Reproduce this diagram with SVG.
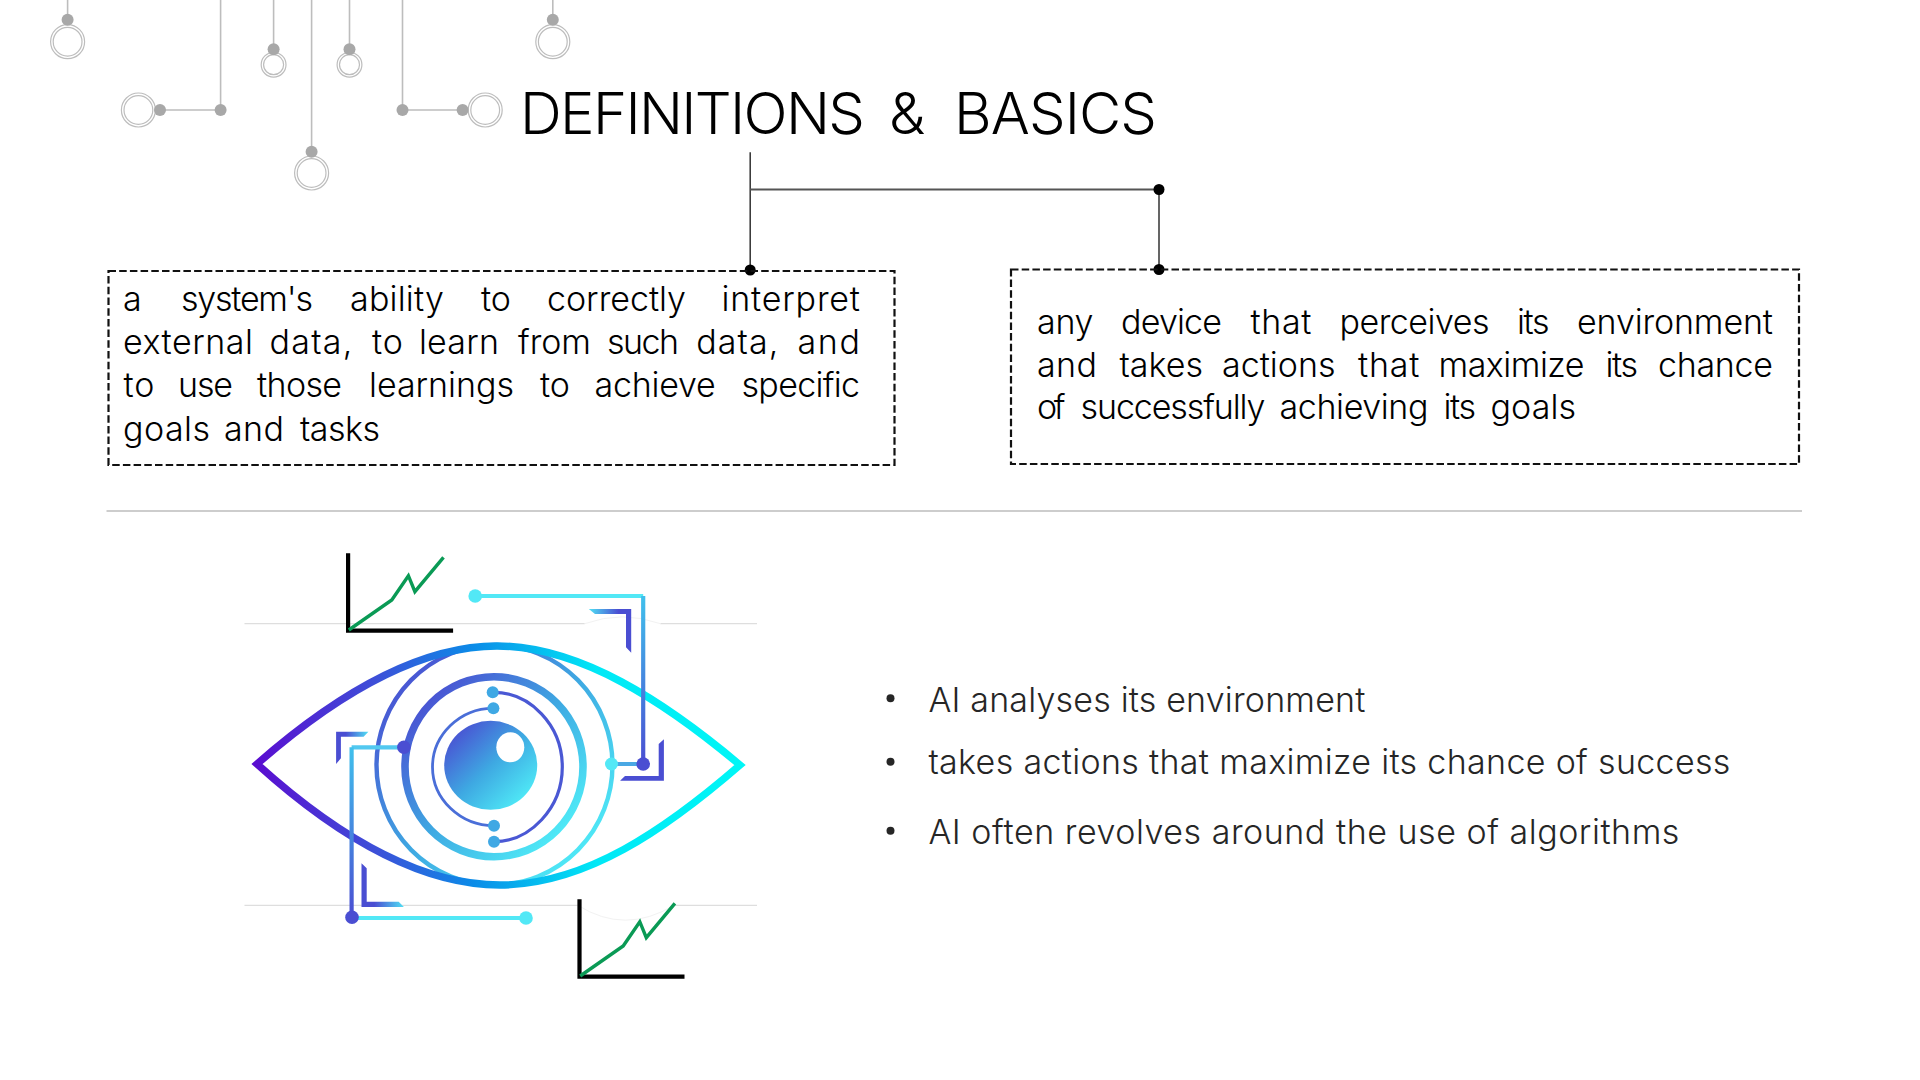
<svg xmlns="http://www.w3.org/2000/svg" width="1920" height="1080" viewBox="0 0 1920 1080">
<style>
text{font-family:"Inter","Lato","Liberation Sans",sans-serif;font-weight:300;fill:#000}
.body{font-size:34px}
.bul{font-size:34px;fill:#262626}
.title{font-size:58px}
.dash{fill:none;stroke:#111;stroke-width:2.2;stroke-dasharray:7.5 3.2}
.cl{stroke:#bdbdbd;stroke-width:1.6;fill:none}
.cd{fill:#a8a8a8}
.cr{fill:#fff;stroke:#bdbdbd;stroke-width:1.2}
.cn{fill:none;stroke:#333;stroke-width:1.5}
.gl{stroke:#dedede;stroke-width:1.2;fill:none}
.ax{fill:none;stroke:#000;stroke-width:4.2}
.gr{fill:none;stroke:#0a9a55;stroke-width:3.4}
</style>
<defs>
<linearGradient id="gEye" gradientUnits="userSpaceOnUse" x1="254" y1="0" x2="743" y2="0">
<stop offset="0" stop-color="#5a0cd0"/><stop offset=".25" stop-color="#3d50d8"/><stop offset=".45" stop-color="#0a8ce8"/><stop offset=".7" stop-color="#00e8f6"/><stop offset="1" stop-color="#00f6f6"/>
</linearGradient>
<linearGradient id="gRing" x1="0.1" y1="0.1" x2="0.9" y2="0.9">
<stop offset="0" stop-color="#4a4ed2"/><stop offset=".5" stop-color="#3ea8e2"/><stop offset="1" stop-color="#50eef8"/>
</linearGradient>
<linearGradient id="gV1" gradientUnits="userSpaceOnUse" x1="0" y1="596" x2="0" y2="764">
<stop offset="0" stop-color="#40c0ec"/><stop offset="1" stop-color="#4a4ed2"/>
</linearGradient>
<linearGradient id="gV2" gradientUnits="userSpaceOnUse" x1="0" y1="747" x2="0" y2="917">
<stop offset="0" stop-color="#40c0ec"/><stop offset="1" stop-color="#4a4ed2"/>
</linearGradient>
<linearGradient id="gB1" x1="0" y1="0" x2="1" y2="0"><stop offset="0" stop-color="#50e0f4"/><stop offset=".7" stop-color="#4a4ed2"/></linearGradient>
<linearGradient id="gB2" x1="0" y1="0" x2="1" y2="0"><stop offset=".3" stop-color="#4a4ed2"/><stop offset="1" stop-color="#50e0f4"/></linearGradient>
</defs>
<rect width="1920" height="1080" fill="#fff"/>
<g id="circuit">
<g class="cl"><path class="cl" d="M67.6 0V19.7M552.8 0V19.7M220.6 0V110H160M273.6 0V49.3M349.5 0V49.3M311.6 0V151.7M402.5 0V110H462.6"/></g>
<g class="cr">
<circle class="cr" cx="67.6" cy="41.7" r="17"/><circle class="cr" cx="67.6" cy="41.7" r="14.4"/>
<circle class="cr" cx="552.8" cy="41.7" r="17"/><circle class="cr" cx="552.8" cy="41.7" r="14.4"/>
<circle class="cr" cx="138.4" cy="110" r="17"/><circle class="cr" cx="138.4" cy="110" r="14.4"/>
<circle class="cr" cx="485.2" cy="110" r="17"/><circle class="cr" cx="485.2" cy="110" r="14.4"/>
<circle class="cr" cx="273.6" cy="64.7" r="12.4"/><circle class="cr" cx="273.6" cy="64.7" r="10"/>
<circle class="cr" cx="349.5" cy="64.7" r="12.4"/><circle class="cr" cx="349.5" cy="64.7" r="10"/>
<circle class="cr" cx="311.6" cy="173" r="17"/><circle class="cr" cx="311.6" cy="173" r="14.4"/>
</g>
<g class="cd">
<circle cx="67.6" cy="19.7" r="6"/><circle cx="552.8" cy="19.7" r="6"/><circle cx="160" cy="110" r="6"/><circle cx="220.6" cy="110" r="6"/>
<circle cx="273.6" cy="49.3" r="6"/><circle cx="349.5" cy="49.3" r="6"/><circle cx="311.6" cy="151.7" r="6"/><circle cx="402.5" cy="110" r="6"/><circle cx="462.6" cy="110" r="6"/>
</g>
</g>
<g id="title"><text class="title" y="134"><tspan x="520" textLength="345">DEFINITIONS</tspan> <tspan x="889" textLength="43">&amp;</tspan> <tspan x="954" textLength="203">BASICS</tspan></text></g>
<g id="connectors">
<path class="cn" d="M750.2 152.3V270M1159 190V270"/>
<path d="M750.2 189.5H1159" fill="none" stroke="#555" stroke-width="2"/>
<circle cx="750.2" cy="270" r="5.5" fill="#000"/><circle cx="1159" cy="189.5" r="5.5" fill="#000"/><circle cx="1159" cy="269.5" r="5.5" fill="#000"/>
</g>
<g id="box-left">
<rect class="dash" x="108.5" y="271" width="786" height="194"/>
<g transform="translate(1 0.8)">
<text class="body" y="310"><tspan x="122" textLength="20">a</tspan> <tspan x="180" textLength="132">system's</tspan> <tspan x="349" textLength="94">ability</tspan> <tspan x="480" textLength="30">to</tspan> <tspan x="546" textLength="139">correctly</tspan> <tspan x="720.5" textLength="138.5">interpret</tspan></text>
<text class="body" y="353.3"><tspan x="122" textLength="130">external</tspan> <tspan x="268.4" textLength="83">data,</tspan> <tspan x="371" textLength="31">to</tspan> <tspan x="418" textLength="80">learn</tspan> <tspan x="517" textLength="73">from</tspan> <tspan x="606" textLength="72">such</tspan> <tspan x="695.3" textLength="82">data,</tspan> <tspan x="796.5" textLength="62.5">and</tspan></text>
<text class="body" y="396.7"><tspan x="122.5" textLength="31">to</tspan> <tspan x="177" textLength="55">use</tspan> <tspan x="256" textLength="85">those</tspan> <tspan x="368" textLength="145">learnings</tspan> <tspan x="539" textLength="30">to</tspan> <tspan x="593.6" textLength="121">achieve</tspan> <tspan x="740.5" textLength="118.5">specific</tspan></text>
<text class="body" y="440"><tspan x="122" textLength="87">goals</tspan> <tspan x="223" textLength="60">and</tspan> <tspan x="299" textLength="80">tasks</tspan></text>
</g>
</g>
<g id="box-right">
<rect class="dash" x="1011" y="269.5" width="788" height="194.5"/>
<g transform="translate(0.5 0.8)">
<text class="body" y="333.3"><tspan x="1036.5" textLength="56.5">any</tspan> <tspan x="1120.5" textLength="101">device</tspan> <tspan x="1250" textLength="61">that</tspan> <tspan x="1339" textLength="150">perceives</tspan> <tspan x="1516.5" textLength="32.5">its</tspan> <tspan x="1576.5" textLength="196">environment</tspan></text>
<text class="body" y="376.7"><tspan x="1036.5" textLength="60">and</tspan> <tspan x="1119" textLength="83.5">takes</tspan> <tspan x="1221.5" textLength="113.5">actions</tspan> <tspan x="1357.5" textLength="61.5">that</tspan> <tspan x="1438" textLength="146">maximize</tspan> <tspan x="1605" textLength="32.5">its</tspan> <tspan x="1657.5" textLength="115">chance</tspan></text>
<text class="body" y="418.7"><tspan x="1036.5" textLength="28.5">of</tspan> <tspan x="1080" textLength="185">successfully</tspan> <tspan x="1279" textLength="149">achieving</tspan> <tspan x="1443" textLength="32.5">its</tspan> <tspan x="1490" textLength="85.5">goals</tspan></text>
</g>
</g>
<line id="separator" x1="106.5" y1="511" x2="1802" y2="511" stroke="#bdbdbd" stroke-width="1.3"/>
<g id="eye-figure">
<path class="gl" d="M244.5 623.7H348M348 623.7H584.7M660.4 623.7H757M244.5 905.3H577.8M674 905.3H757"/>
<path d="M584.7 623.7Q622 610 660.4 623.7M577.8 905.3Q625 935 674 905.3" fill="none" stroke="#f2f2f2" stroke-width="1"/>
<path class="ax" d="M348.1 553.3V630.7H453.1"/>
<polyline class="gr" points="348.8,630 391.8,600 408.4,575.7 414.9,591.7 443.5,557.3"/>
<g transform="translate(231.4 346)"><path class="ax" d="M348.1 553.3V630.7H453.1"/><polyline class="gr" points="348.8,630 391.8,600 408.4,575.7 414.9,591.7 443.5,557.3"/></g>
<polygon fill="url(#gB1)" points="588.8,609 631.2,609 631.2,652.7 626,647.3 626,614 595,614"/>
<polygon fill="#4a4ed2" points="663.9,739.3 663.9,780.7 620.1,780.7 625,776 658.7,776 658.7,744"/>
<polygon fill="url(#gB2)" points="336.1,731.7 368.4,731.7 363.6,736.7 340.9,736.7 340.9,758.3 336.1,764"/>
<polygon fill="url(#gB2)" points="361.5,863.3 366.7,868.3 366.7,901.7 398.7,901.7 403.9,907 361.5,907"/>
<ellipse cx="494.5" cy="765" rx="118" ry="120" fill="none" stroke="url(#gRing)" stroke-width="4.4"/>
<path d="M257 764C330 700 415 646 497 646C580 646 665 702 740 765C665 830 585 885 500 885C415 885 330 830 257 764Z" fill="none" stroke="url(#gEye)" stroke-width="7.4" stroke-miterlimit="8"/>
<ellipse cx="494" cy="766.7" rx="89" ry="90" fill="none" stroke="url(#gRing)" stroke-width="7.6"/>
<path d="M492.7 692.3C530 692 562.3 725 562.3 767C562.3 808 530 841.7 494 841.7" fill="none" stroke="#4a58d4" stroke-width="3.2"/>
<path d="M493.4 708.3C460 708 432.5 735 432.5 767C432.5 799 460 825.7 494 825.7" fill="none" stroke="#4a6ed8" stroke-width="2.8"/>
<g fill="#3fa8e4"><circle cx="492.7" cy="692.3" r="6"/><circle cx="493.4" cy="708.3" r="6"/><circle cx="494" cy="825.7" r="6"/><circle cx="494" cy="841.7" r="6"/></g>
<ellipse cx="490.7" cy="765.3" rx="46.5" ry="44.5" fill="url(#gRing)"/>
<ellipse cx="510.3" cy="747.3" rx="14" ry="15" fill="#fff"/>
<path d="M475.2 596H643.2" fill="none" stroke="#52e8f6" stroke-width="4.2"/>
<path d="M643.2 596V764" fill="none" stroke="url(#gV1)" stroke-width="4.2"/>
<path d="M611.5 764H643.2" fill="none" stroke="#4aa8e4" stroke-width="4.2"/>
<circle cx="475.2" cy="596" r="6.8" fill="#52e8f6"/><circle cx="611.5" cy="764" r="6.5" fill="#52e8f6"/><circle cx="643.2" cy="764" r="6.8" fill="#4a4ed2"/>
<path d="M403.9 747.3H351.6" fill="none" stroke="#52c8f0" stroke-width="4.2"/>
<path d="M351.6 747.3V917.3" fill="none" stroke="url(#gV2)" stroke-width="4.2"/>
<path d="M351.6 918H526" fill="none" stroke="#52e8f6" stroke-width="4.2"/>
<circle cx="403.9" cy="747.3" r="6.8" fill="#4a4ed2"/><circle cx="352" cy="917.3" r="6.8" fill="#4a4ed2"/><circle cx="526" cy="918" r="6.8" fill="#52e8f6"/>
</g>
<g id="bullets">
<g fill="#262626"><circle cx="890.5" cy="698.3" r="4"/><circle cx="890.5" cy="761.7" r="4"/><circle cx="890.5" cy="830.7" r="4"/></g>
<text class="bul" x="928.4" y="711.7" textLength="437">AI analyses its environment</text>
<text class="bul" x="928.4" y="774" textLength="802">takes actions that maximize its chance of success</text>
<text class="bul" x="928.4" y="844" textLength="751">AI often revolves around the use of algorithms</text>
</g>
</svg>
